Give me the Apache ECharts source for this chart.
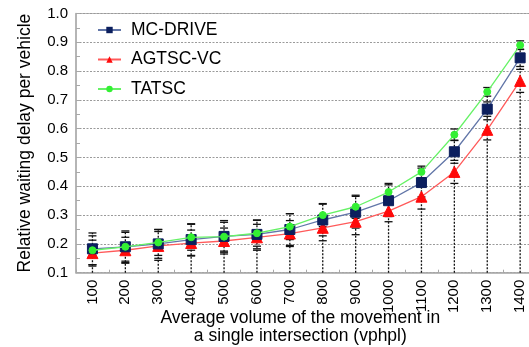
<!DOCTYPE html>
<html>
<head>
<meta charset="utf-8">
<script src="https://cdn.jsdelivr.net/npm/echarts@6/dist/echarts.min.js"></script>
<style>
  html, body { margin: 0; padding: 0; background: #fff; }
  #chart { width: 529px; height: 347px; }
</style>
</head>
<body>
<div id="chart"></div>
<script>
// Traffic volume per movement (vphpl)
const categories = ['100','200','300','400','500','600','700','800','900','1000','1100','1200','1300','1400'];

// Relative waiting delay per vehicle, mean values
const mcDrive = [0.183,0.190,0.200,0.215,0.226,0.233,0.250,0.283,0.310,0.350,0.413,0.520,0.668,0.846];
const agtscVc = [0.168,0.178,0.193,0.203,0.210,0.223,0.236,0.256,0.277,0.314,0.364,0.450,0.596,0.766];
const tatsc   = [0.178,0.190,0.205,0.223,0.225,0.237,0.260,0.300,0.329,0.380,0.450,0.579,0.728,0.890];

// Half-widths of the error bars
const mcDriveErr = [0.055,0.055,0.050,0.055,0.055,0.050,0.055,0.055,0.055,0.055,0.050,0.040,0.025,0.030];
const agtscVcErr = [0.045,0.045,0.050,0.045,0.045,0.045,0.045,0.045,0.045,0.037,0.043,0.040,0.035,0.040];
const tatscErr   = [0.050,0.050,0.045,0.045,0.050,0.045,0.045,0.040,0.040,0.030,0.020,0.020,0.015,0.015];

const yMin = 0.1, yMax = 1.0;
const FONT = 'Liberation Sans, Arial, sans-serif';

function errData(vals, errs) {
  return vals.map((v, i) => [i, v - errs[i], v + errs[i]]);
}

// dotted drop line from the axis up to the highest error cap
const dropData = categories.map((c, i) => [i, yMin, Math.max(
  mcDrive[i] + mcDriveErr[i], agtscVc[i] + agtscVcErr[i], tatsc[i] + tatscErr[i])]);

function renderDrop(params, api) {
  const p0 = api.coord([api.value(0), api.value(1)]);
  const p1 = api.coord([api.value(0), api.value(2)]);
  return {
    type: 'line',
    shape: { x1: p0[0], y1: p0[1], x2: p1[0], y2: p1[1] },
    style: { stroke: '#111', lineWidth: 1.3, lineDash: [2, 1.5] }
  };
}

function renderCaps(params, api) {
  const lo = api.coord([api.value(0), api.value(1)]);
  const hi = api.coord([api.value(0), api.value(2)]);
  const w = 4;
  const st = { stroke: '#111', lineWidth: 1.3 };
  return {
    type: 'group',
    children: [
      { type: 'line', shape: { x1: lo[0] - w, y1: lo[1], x2: lo[0] + w, y2: lo[1] }, style: st },
      { type: 'line', shape: { x1: hi[0] - w, y1: hi[1], x2: hi[0] + w, y2: hi[1] }, style: st }
    ]
  };
}

const chart = echarts.init(document.getElementById('chart'), null, { renderer: 'canvas' });

chart.setOption({
  animation: false,
  backgroundColor: '#fff',
  grid: { left: 76, top: 13.5, right: -7.6, bottom: 74.3, containLabel: false, outerBoundsMode: 'none',
    show: true, borderColor: '#b8b8b8', borderWidth: 1 },
  legend: {
    orient: 'vertical',
    left: 97, top: 21, padding: 0,
    itemWidth: 23, itemHeight: 8,
    itemGap: 11.5,
    data: ['MC-DRIVE', 'AGTSC-VC', 'TATSC'],
    textStyle: { fontFamily: FONT, fontSize: 17.5, color: '#000', lineHeight: 18, padding: [0, 0, 0, 5] }
  },
  xAxis: {
    type: 'category',
    data: categories,
    boundaryGap: true,
    axisLine: { lineStyle: { color: '#a8a8a8', width: 1.5 } },
    axisTick: { show: true, inside: true, length: 3, lineStyle: { color: '#a8a8a8' } },
    axisLabel: { rotate: 90, fontFamily: FONT, fontSize: 15, color: '#000', margin: 7 },
    splitLine: { show: false },
    name: 'Average volume of the movement in\na single intersection (vphpl)',
    nameLocation: 'middle',
    nameGap: 36,
    nameMoveOverlap: false,
    nameTextStyle: { fontFamily: FONT, fontSize: 17.5, color: '#000', lineHeight: 18, padding: [0, 12, 0, 0] }
  },
  yAxis: {
    type: 'value',
    min: yMin, max: yMax, interval: 0.1,
    axisLine: { show: true, lineStyle: { color: '#a8a8a8', width: 1.5 } },
    axisTick: { show: true, inside: true, length: 4, lineStyle: { color: '#a8a8a8' } },
    minorTick: { show: true, splitNumber: 2, length: 4, lineStyle: { color: '#a8a8a8' } },
    axisLabel: { fontFamily: FONT, fontSize: 15, color: '#000', margin: 8,
      formatter: v => v.toFixed(1) },
    splitLine: { show: true, lineStyle: { color: '#9a9a9a', type: [2, 1.5], width: 1 } },
    name: 'Relative waiting delay per vehicle',
    nameLocation: 'middle',
    nameRotate: 90,
    nameGap: 42,
    nameMoveOverlap: false,
    nameTextStyle: { fontFamily: FONT, fontSize: 17.5, color: '#000' }
  },
  series: [
    { type: 'custom', name: 'drop', renderItem: renderDrop, data: dropData, z: 1, silent: true,
      encode: { x: 0, y: [1, 2] } },
    { type: 'custom', name: 'mcErr', renderItem: renderCaps, data: errData(mcDrive, mcDriveErr), z: 2, silent: true,
      encode: { x: 0, y: [1, 2] } },
    { type: 'custom', name: 'agErr', renderItem: renderCaps, data: errData(agtscVc, agtscVcErr), z: 2, silent: true,
      encode: { x: 0, y: [1, 2] } },
    { type: 'custom', name: 'taErr', renderItem: renderCaps, data: errData(tatsc, tatscErr), z: 2, silent: true,
      encode: { x: 0, y: [1, 2] } },
    {
      type: 'line', name: 'MC-DRIVE', data: mcDrive, z: 4,
      symbol: 'rect', symbolSize: 10,
      itemStyle: { color: '#0c1f5e', borderColor: '#0c1f5e' },
      lineStyle: { color: '#6276a8', width: 1.3 }
    },
    {
      type: 'line', name: 'AGTSC-VC', data: agtscVc, z: 3,
      symbol: 'triangle', symbolSize: [11, 11],
      itemStyle: { color: '#ff0a0a', borderColor: '#ff0a0a' },
      lineStyle: { color: '#ff5a5a', width: 1.3 }
    },
    {
      type: 'line', name: 'TATSC', data: tatsc, z: 5,
      symbol: 'circle', symbolSize: 7,
      itemStyle: { color: '#33f033', borderColor: '#33f033' },
      lineStyle: { color: '#66f266', width: 1.3 }
    }
  ]
});
</script>
</body>
</html>
